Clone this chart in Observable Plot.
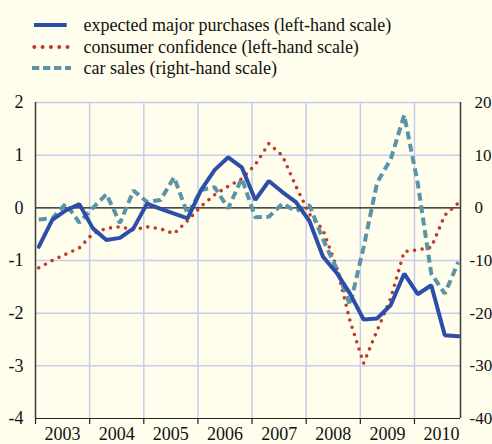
<!DOCTYPE html>
<html>
<head>
<meta charset="utf-8">
<script src="https://cdn.jsdelivr.net/npm/d3@7"></script>
<script src="https://cdn.jsdelivr.net/npm/@observablehq/plot@0.6"></script>
<style>
  html, body { margin: 0; padding: 0; background: #fffdeb; }
  body { width: 492px; height: 444px; overflow: hidden; font-family: "Liberation Serif", "Times New Roman", serif; }
  #legend { position: relative; height: 85px; }
  .row { position: absolute; left: 0; height: 22px; width: 492px; }
  .row svg { position: absolute; left: 30px; top: 0; }
  .row span { position: absolute; left: 83.5px; top: 0; line-height: 22px; font-size: 18px; color: #111; white-space: nowrap; }
</style>
</head>
<body>
<div id="legend"></div>
<div id="chart"></div>
<script>
// ---- data ----
const quarters = [
  "2003Q1","2003Q2","2003Q3","2003Q4","2004Q1","2004Q2","2004Q3","2004Q4",
  "2005Q1","2005Q2","2005Q3","2005Q4","2006Q1","2006Q2","2006Q3","2006Q4",
  "2007Q1","2007Q2","2007Q3","2007Q4","2008Q1","2008Q2","2008Q3","2008Q4",
  "2009Q1","2009Q2","2009Q3","2009Q4","2010Q1","2010Q2","2010Q3","2010Q4"
];
// expected major purchases (left-hand scale)
const purchases = [-0.74, -0.23, -0.05, 0.07, -0.39, -0.61, -0.57, -0.39,
  0.08, -0.02, -0.11, -0.20, 0.34, 0.72, 0.96, 0.77,
  0.15, 0.51, 0.30, 0.11, -0.25, -0.93, -1.23, -1.63,
  -2.12, -2.10, -1.85, -1.25, -1.64, -1.47, -2.42, -2.44];
// consumer confidence (left-hand scale)
const confidence = [-1.14, -1.00, -0.88, -0.76, -0.49, -0.39, -0.36, -0.42,
  -0.36, -0.40, -0.49, -0.24, 0.03, 0.25, 0.41, 0.55,
  0.82, 1.22, 0.99, 0.41, -0.12, -0.42, -1.12, -2.15,
  -2.95, -2.33, -1.72, -0.83, -0.80, -0.75, -0.14, 0.09];
// car sales (right-hand scale)
const carSales = [-2.2, -2.0, 0.8, -2.8, 0.0, 2.6, -2.9, 3.3,
  1.1, 1.5, 5.8, -1.2, 3.4, 3.9, -0.1, 5.6,
  -1.8, -1.7, 0.8, -0.6, 0.5, -6.0, -11.5, -18.5,
  -7.5, 4.8, 9.2, 17.6, 4.7, -12.5, -16.3, -10.3];
const years = [2003, 2004, 2005, 2006, 2007, 2008, 2009, 2010];
const leftTicks = [-4, -3, -2, -1, 0, 1, 2];
const rightTicks = [-40, -30, -20, -10, 0, 10, 20];
const seriesNames = [
  "expected major purchases (left-hand scale)",
  "consumer confidence (left-hand scale)",
  "car sales (right-hand scale)"
];

// ---- style ----
const colors = ["#2c4daa", "#c0392b", "#5b94a6"];
const gridColor = "#c9ccef";
const axisColor = "#444";
const font = "'Liberation Serif', 'Times New Roman', serif";
const ratio = 10; // right-hand scale / left-hand scale

const t = q => +q.slice(0, 4) + (+q.slice(5) - 1) / 4 + 0.06;
const purchasesData = quarters.map((q, i) => ({t: t(q), v: purchases[i]}));
const confidenceData = quarters.map((q, i) => ({t: t(q), v: confidence[i]}));
const carData = quarters.map((q, i) => ({t: t(q), v: carSales[i] / ratio}));

const xEnd = 2010.85;

// ---- legend ----
const legend = document.getElementById("legend");
const centers = [25, 46.5, 68];
const strokeStyles = [
  {w: 4, dash: null, cap: "butt"},
  {w: 4, dash: "0 8.3", cap: "round"},
  {w: 4, dash: "7.3 3.7", cap: "butt"}
];
seriesNames.forEach((name, i) => {
  const row = document.createElement("div");
  row.className = "row";
  row.style.top = (centers[i] - 11) + "px";
  const s = strokeStyles[i];
  const x1 = i === 0 ? 4 : (i === 1 ? 4.3 : 2);
  const x2 = i === 0 ? 36.7 : (i === 1 ? 38 : 41);
  row.innerHTML = `<svg width="44" height="22"><line x1="${x1}" x2="${x2}" y1="11" y2="11" stroke="${colors[i]}" stroke-width="${s.w}" ${s.dash ? `stroke-dasharray="${s.dash}"` : ""} stroke-linecap="${s.cap}"/></svg><span>${name}</span>`;
  legend.appendChild(row);
});

// ---- chart ----
const chart = Plot.plot({
  width: 492,
  height: 359,
  marginTop: 17,
  marginBottom: 26,
  marginLeft: 35,
  marginRight: 32,
  style: {background: "#fffdeb", fontFamily: font, overflow: "visible"},
  x: {domain: [2003, xEnd], label: null},
  y: {domain: [-4, 2], label: null},
  marks: [
    Plot.gridY([-3, -2, -1, 1, 2], {stroke: gridColor, strokeOpacity: 1, strokeWidth: 1.5}),
    Plot.gridX(years.slice(1), {stroke: gridColor, strokeOpacity: 1, strokeWidth: 1.5}),
    Plot.ruleY([0], {stroke: "#111", strokeWidth: 1.2}),
    Plot.ruleX([2003, xEnd], {stroke: axisColor, strokeWidth: 1.6}),
    Plot.ruleY([-4], {stroke: "#222", strokeWidth: 1.2}),
    Plot.axisX({ticks: years, tickSize: 6, tickFormat: () => "", stroke: "#222", strokeWidth: 1.2, label: null}),
    Plot.text(years, {x: d => d + 0.5, y: -4, text: d => String(d), lineAnchor: "top", dy: 9, fontSize: 18, fill: "#111", fontFamily: font}),
    Plot.axisY({anchor: "left", ticks: leftTicks, tickSize: 0, tickPadding: 12, tickFormat: d => String(d), fontSize: 18, fill: "#111", label: null, fontFamily: font}),
    Plot.axisY({anchor: "right", ticks: rightTicks.filter(d => d >= 0).map(d => d / ratio), tickSize: 0, tickPadding: 14, tickFormat: d => String(Math.round(d * ratio)), fontSize: 17, fill: "#111", label: null, fontFamily: font}),
    Plot.axisY({anchor: "right", ticks: rightTicks.filter(d => d < 0).map(d => d / ratio), tickSize: 0, tickPadding: 9, tickFormat: d => String(Math.round(d * ratio)), fontSize: 17, fill: "#111", label: null, fontFamily: font}),
    Plot.line(confidenceData, {x: "t", y: "v", stroke: colors[1], strokeWidth: 3.6, strokeDasharray: "0 7.6", strokeLinecap: "round"}),
    Plot.line(carData, {x: "t", y: "v", stroke: colors[2], strokeWidth: 4, strokeDasharray: "8 4.5", strokeLinecap: "butt", strokeLinejoin: "miter"}),
    Plot.line(purchasesData, {x: "t", y: "v", stroke: colors[0], strokeWidth: 4, strokeLinejoin: "miter"})
  ]
});
document.getElementById("chart").appendChild(chart);
</script>
</body>
</html>
